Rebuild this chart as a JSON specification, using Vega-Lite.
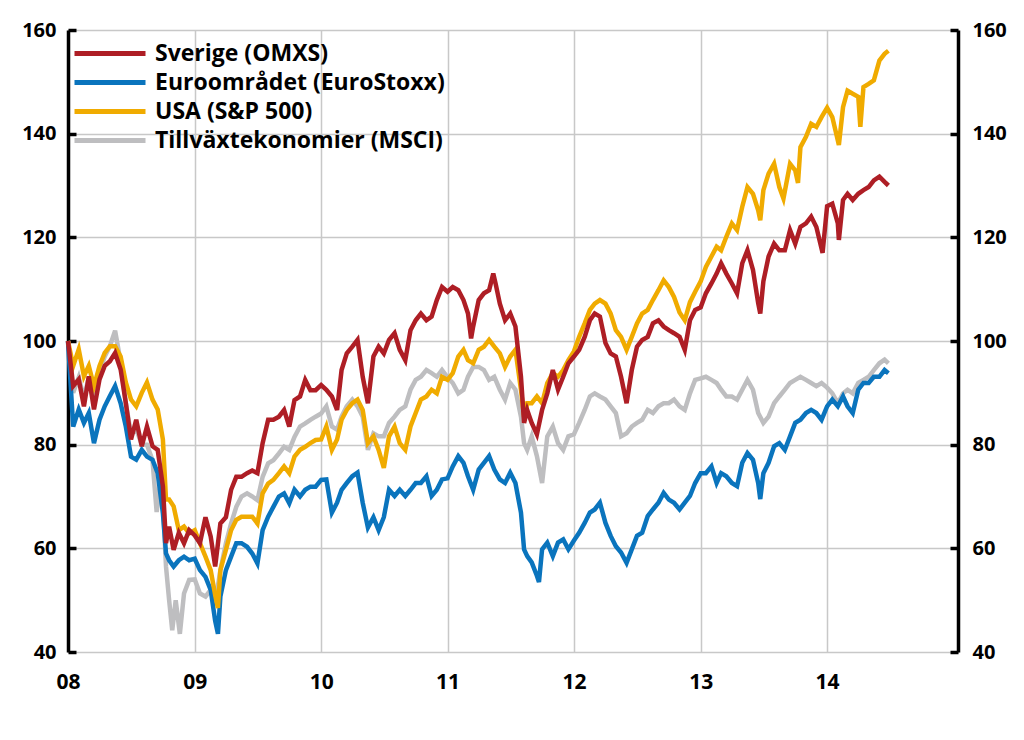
{
"$schema": "https://vega.github.io/schema/vega-lite/v6.json",
"width": 890, "height": 622,
"autosize": {"type": "none"},
"padding": {"left": 68, "top": 30, "right": 66, "bottom": 88},
"background": "white",
"config": {
  "view": {"stroke": null},
  "font": "Open Sans",
  "axis": {"labelFont": "Open Sans", "labelFontWeight": "bold", "labelColor": "#000", "gridColor": "#c8c8c8", "gridWidth": 1.5, "title": null},
  "legend": {"orient": "none", "legendX": 4, "legendY": 11, "symbolType": "M-1,0L6.1,0", "symbolSize": 400, "symbolStrokeWidth": 5, "labelFont": "Open Sans", "labelFontSize": 23, "labelFontWeight": "bold", "labelColor": "#000", "padding": 0, "rowPadding": 4, "labelOffset": 58, "labelLimit": 500, "title": null}
},
"data": {"format": {"parse": {"d": "utc:'%Y-%m-%d'"}}, "values": [
{"k":"EM","d":"2008-01-01","v":100},{"k":"EM","d":"2008-01-16","v":90},{"k":"EM","d":"2008-02-01","v":93},{"k":"EM","d":"2008-02-16","v":89},{"k":"EM","d":"2008-03-01","v":93},{"k":"EM","d":"2008-03-16","v":88},{"k":"EM","d":"2008-04-01","v":94},{"k":"EM","d":"2008-04-16","v":97},{"k":"EM","d":"2008-05-01","v":99},{"k":"EM","d":"2008-05-16","v":102},{"k":"EM","d":"2008-06-01","v":96},{"k":"EM","d":"2008-06-16","v":88},{"k":"EM","d":"2008-07-01","v":82},{"k":"EM","d":"2008-07-16","v":83},{"k":"EM","d":"2008-08-01","v":80},{"k":"EM","d":"2008-08-16","v":80},{"k":"EM","d":"2008-09-01","v":77},{"k":"EM","d":"2008-09-13","v":67},{"k":"EM","d":"2008-09-22","v":72},{"k":"EM","d":"2008-10-01","v":69},{"k":"EM","d":"2008-10-10","v":56.5},{"k":"EM","d":"2008-10-19","v":50},{"k":"EM","d":"2008-10-28","v":44.2},{"k":"EM","d":"2008-11-07","v":50},{"k":"EM","d":"2008-11-19","v":43.5},{"k":"EM","d":"2008-12-01","v":51.3},{"k":"EM","d":"2008-12-16","v":53.9},
{"k":"EM","d":"2009-01-01","v":54},{"k":"EM","d":"2009-01-16","v":51.3},{"k":"EM","d":"2009-02-01","v":50.7},{"k":"EM","d":"2009-02-16","v":52},{"k":"EM","d":"2009-03-01","v":49.4},{"k":"EM","d":"2009-03-16","v":55.8},{"k":"EM","d":"2009-04-01","v":61},{"k":"EM","d":"2009-04-16","v":64.8},{"k":"EM","d":"2009-05-01","v":68},{"k":"EM","d":"2009-05-16","v":70},{"k":"EM","d":"2009-06-01","v":70.6},{"k":"EM","d":"2009-06-16","v":70},{"k":"EM","d":"2009-07-01","v":69.3},{"k":"EM","d":"2009-07-16","v":73.8},{"k":"EM","d":"2009-08-01","v":76.4},{"k":"EM","d":"2009-08-16","v":77},{"k":"EM","d":"2009-09-01","v":78.3},{"k":"EM","d":"2009-09-16","v":79.6},{"k":"EM","d":"2009-10-01","v":79},{"k":"EM","d":"2009-10-16","v":81.5},{"k":"EM","d":"2009-11-01","v":83.5},{"k":"EM","d":"2009-11-16","v":84.1},{"k":"EM","d":"2009-12-01","v":84.8},{"k":"EM","d":"2009-12-16","v":85.4},
{"k":"EM","d":"2010-01-01","v":86},{"k":"EM","d":"2010-01-16","v":87.4},{"k":"EM","d":"2010-02-01","v":83.5},{"k":"EM","d":"2010-02-16","v":82.9},{"k":"EM","d":"2010-03-01","v":85.4},{"k":"EM","d":"2010-03-16","v":87.4},{"k":"EM","d":"2010-04-01","v":88.7},{"k":"EM","d":"2010-04-16","v":87.4},{"k":"EM","d":"2010-05-01","v":85.4},{"k":"EM","d":"2010-05-16","v":79},{"k":"EM","d":"2010-06-01","v":82.2},{"k":"EM","d":"2010-06-16","v":81.6},{"k":"EM","d":"2010-07-01","v":81.6},{"k":"EM","d":"2010-07-16","v":84.2},{"k":"EM","d":"2010-08-01","v":85.4},{"k":"EM","d":"2010-08-16","v":86.7},{"k":"EM","d":"2010-09-01","v":87.4},{"k":"EM","d":"2010-09-16","v":90.6},{"k":"EM","d":"2010-10-01","v":92.5},{"k":"EM","d":"2010-10-16","v":93.1},{"k":"EM","d":"2010-11-01","v":94.4},{"k":"EM","d":"2010-11-16","v":93.8},{"k":"EM","d":"2010-12-01","v":93.1},{"k":"EM","d":"2010-12-16","v":94.4},
{"k":"EM","d":"2011-01-01","v":93},{"k":"EM","d":"2011-01-16","v":91.9},{"k":"EM","d":"2011-02-01","v":89.9},{"k":"EM","d":"2011-02-16","v":90.6},{"k":"EM","d":"2011-03-01","v":93.1},{"k":"EM","d":"2011-03-16","v":95},{"k":"EM","d":"2011-04-01","v":95},{"k":"EM","d":"2011-04-16","v":94.4},{"k":"EM","d":"2011-05-01","v":92.5},{"k":"EM","d":"2011-05-16","v":93.1},{"k":"EM","d":"2011-06-01","v":90.6},{"k":"EM","d":"2011-06-16","v":88.7},{"k":"EM","d":"2011-07-01","v":91.9},{"k":"EM","d":"2011-07-16","v":90.6},{"k":"EM","d":"2011-08-01","v":85.4},{"k":"EM","d":"2011-08-10","v":80.3},{"k":"EM","d":"2011-08-19","v":79},{"k":"EM","d":"2011-09-01","v":81.6},{"k":"EM","d":"2011-09-16","v":77.8},{"k":"EM","d":"2011-10-01","v":72.6},{"k":"EM","d":"2011-10-16","v":81.6},{"k":"EM","d":"2011-11-01","v":83.5},{"k":"EM","d":"2011-11-16","v":80.3},{"k":"EM","d":"2011-12-01","v":79},{"k":"EM","d":"2011-12-16","v":81.6},
{"k":"EM","d":"2012-01-01","v":82},{"k":"EM","d":"2012-01-16","v":84.2},{"k":"EM","d":"2012-02-01","v":86.7},{"k":"EM","d":"2012-02-16","v":89.3},{"k":"EM","d":"2012-03-01","v":89.9},{"k":"EM","d":"2012-03-16","v":89.3},{"k":"EM","d":"2012-04-01","v":88.7},{"k":"EM","d":"2012-04-16","v":87.4},{"k":"EM","d":"2012-05-01","v":86.1},{"k":"EM","d":"2012-05-16","v":81.6},{"k":"EM","d":"2012-06-01","v":82.2},{"k":"EM","d":"2012-06-16","v":83.5},{"k":"EM","d":"2012-07-01","v":84.2},{"k":"EM","d":"2012-07-16","v":84.8},{"k":"EM","d":"2012-08-01","v":86.7},{"k":"EM","d":"2012-08-16","v":86.1},{"k":"EM","d":"2012-09-01","v":87.4},{"k":"EM","d":"2012-09-16","v":88},{"k":"EM","d":"2012-10-01","v":88},{"k":"EM","d":"2012-10-16","v":88.7},{"k":"EM","d":"2012-11-01","v":87.4},{"k":"EM","d":"2012-11-16","v":86.7},{"k":"EM","d":"2012-12-01","v":89.9},{"k":"EM","d":"2012-12-16","v":92.5},
{"k":"EM","d":"2013-01-01","v":92.8},{"k":"EM","d":"2013-01-16","v":93.1},{"k":"EM","d":"2013-02-01","v":92.5},{"k":"EM","d":"2013-02-16","v":91.9},{"k":"EM","d":"2013-03-01","v":90.6},{"k":"EM","d":"2013-03-16","v":89.3},{"k":"EM","d":"2013-04-01","v":89.3},{"k":"EM","d":"2013-04-16","v":88.7},{"k":"EM","d":"2013-05-01","v":90.6},{"k":"EM","d":"2013-05-16","v":92.5},{"k":"EM","d":"2013-06-01","v":90.6},{"k":"EM","d":"2013-06-16","v":86.1},{"k":"EM","d":"2013-07-01","v":84.2},{"k":"EM","d":"2013-07-16","v":85.4},{"k":"EM","d":"2013-08-01","v":88},{"k":"EM","d":"2013-08-16","v":89.3},{"k":"EM","d":"2013-09-01","v":90.6},{"k":"EM","d":"2013-09-16","v":91.9},{"k":"EM","d":"2013-10-01","v":92.5},{"k":"EM","d":"2013-10-16","v":93.1},{"k":"EM","d":"2013-11-01","v":92.5},{"k":"EM","d":"2013-11-16","v":91.9},{"k":"EM","d":"2013-12-01","v":91.3},{"k":"EM","d":"2013-12-16","v":91.9},
{"k":"EM","d":"2014-01-01","v":91},{"k":"EM","d":"2014-01-16","v":89.9},{"k":"EM","d":"2014-02-01","v":88},{"k":"EM","d":"2014-02-16","v":89.9},{"k":"EM","d":"2014-03-01","v":90.6},{"k":"EM","d":"2014-03-16","v":89.9},{"k":"EM","d":"2014-04-01","v":91.9},{"k":"EM","d":"2014-04-16","v":92.5},{"k":"EM","d":"2014-05-01","v":93.1},{"k":"EM","d":"2014-05-16","v":94.4},{"k":"EM","d":"2014-06-01","v":95.7},{"k":"EM","d":"2014-06-16","v":96.4},{"k":"EM","d":"2014-06-27","v":95.7},

{"k":"EU","d":"2008-01-01","v":100},{"k":"EU","d":"2008-01-16","v":83.5},{"k":"EU","d":"2008-02-01","v":86.8},{"k":"EU","d":"2008-02-16","v":84.2},{"k":"EU","d":"2008-03-01","v":86.1},{"k":"EU","d":"2008-03-16","v":80.3},{"k":"EU","d":"2008-04-01","v":84.8},{"k":"EU","d":"2008-04-16","v":87.4},{"k":"EU","d":"2008-05-01","v":89.4},{"k":"EU","d":"2008-05-16","v":91.3},{"k":"EU","d":"2008-06-01","v":88},{"k":"EU","d":"2008-06-16","v":83.5},{"k":"EU","d":"2008-07-01","v":77.7},{"k":"EU","d":"2008-07-16","v":77.1},{"k":"EU","d":"2008-08-01","v":79},{"k":"EU","d":"2008-08-16","v":77.7},{"k":"EU","d":"2008-09-01","v":77.1},{"k":"EU","d":"2008-09-16","v":74.5},{"k":"EU","d":"2008-10-01","v":66.8},{"k":"EU","d":"2008-10-10","v":59},{"k":"EU","d":"2008-10-19","v":57.7},{"k":"EU","d":"2008-11-01","v":56.5},{"k":"EU","d":"2008-11-16","v":57.7},{"k":"EU","d":"2008-12-01","v":58.4},{"k":"EU","d":"2008-12-16","v":57.7},
{"k":"EU","d":"2009-01-01","v":58},{"k":"EU","d":"2009-01-16","v":55.8},{"k":"EU","d":"2009-02-01","v":54.5},{"k":"EU","d":"2009-02-16","v":52},{"k":"EU","d":"2009-03-01","v":46},{"k":"EU","d":"2009-03-09","v":43.5},{"k":"EU","d":"2009-03-16","v":50.7},{"k":"EU","d":"2009-04-01","v":55.8},{"k":"EU","d":"2009-04-16","v":58.4},{"k":"EU","d":"2009-05-01","v":61},{"k":"EU","d":"2009-05-16","v":61},{"k":"EU","d":"2009-06-01","v":60.3},{"k":"EU","d":"2009-06-16","v":59},{"k":"EU","d":"2009-07-01","v":57.1},{"k":"EU","d":"2009-07-16","v":63.5},{"k":"EU","d":"2009-08-01","v":66.1},{"k":"EU","d":"2009-08-16","v":68},{"k":"EU","d":"2009-09-01","v":70},{"k":"EU","d":"2009-09-16","v":70.6},{"k":"EU","d":"2009-10-01","v":68.7},{"k":"EU","d":"2009-10-16","v":71.3},{"k":"EU","d":"2009-11-01","v":70},{"k":"EU","d":"2009-11-16","v":71.3},{"k":"EU","d":"2009-12-01","v":71.9},{"k":"EU","d":"2009-12-16","v":71.9},
{"k":"EU","d":"2010-01-01","v":73.2},{"k":"EU","d":"2010-01-16","v":73.3},{"k":"EU","d":"2010-02-01","v":66.9},{"k":"EU","d":"2010-02-16","v":68.8},{"k":"EU","d":"2010-03-01","v":71.3},{"k":"EU","d":"2010-03-16","v":72.6},{"k":"EU","d":"2010-04-01","v":73.9},{"k":"EU","d":"2010-04-16","v":74.6},{"k":"EU","d":"2010-05-01","v":68.8},{"k":"EU","d":"2010-05-16","v":64},{"k":"EU","d":"2010-06-01","v":66},{"k":"EU","d":"2010-06-16","v":63.5},{"k":"EU","d":"2010-07-01","v":66},{"k":"EU","d":"2010-07-16","v":71.3},{"k":"EU","d":"2010-08-01","v":70.1},{"k":"EU","d":"2010-08-16","v":71.3},{"k":"EU","d":"2010-09-01","v":70.1},{"k":"EU","d":"2010-09-16","v":71.3},{"k":"EU","d":"2010-10-01","v":72.6},{"k":"EU","d":"2010-10-16","v":72.6},{"k":"EU","d":"2010-11-01","v":73.9},{"k":"EU","d":"2010-11-16","v":70.1},{"k":"EU","d":"2010-12-01","v":71.3},{"k":"EU","d":"2010-12-16","v":73.3},
{"k":"EU","d":"2011-01-01","v":73.5},{"k":"EU","d":"2011-01-16","v":75.8},{"k":"EU","d":"2011-02-01","v":77.8},{"k":"EU","d":"2011-02-16","v":76.5},{"k":"EU","d":"2011-03-01","v":73.9},{"k":"EU","d":"2011-03-16","v":71.3},{"k":"EU","d":"2011-04-01","v":75.2},{"k":"EU","d":"2011-04-16","v":76.5},{"k":"EU","d":"2011-05-01","v":77.8},{"k":"EU","d":"2011-05-16","v":75.2},{"k":"EU","d":"2011-06-01","v":73.3},{"k":"EU","d":"2011-06-16","v":72.6},{"k":"EU","d":"2011-07-01","v":74.6},{"k":"EU","d":"2011-07-16","v":72.6},{"k":"EU","d":"2011-08-01","v":66.9},{"k":"EU","d":"2011-08-10","v":59.8},{"k":"EU","d":"2011-08-19","v":58.5},{"k":"EU","d":"2011-09-01","v":57.3},{"k":"EU","d":"2011-09-16","v":54.7},{"k":"EU","d":"2011-09-22","v":53.5},{"k":"EU","d":"2011-10-01","v":59.8},{"k":"EU","d":"2011-10-16","v":61.1},{"k":"EU","d":"2011-11-01","v":58.5},{"k":"EU","d":"2011-11-16","v":61.1},{"k":"EU","d":"2011-12-01","v":61.7},{"k":"EU","d":"2011-12-16","v":59.8},
{"k":"EU","d":"2012-01-01","v":61.5},{"k":"EU","d":"2012-01-16","v":63},{"k":"EU","d":"2012-02-01","v":64.9},{"k":"EU","d":"2012-02-16","v":66.9},{"k":"EU","d":"2012-03-01","v":67.5},{"k":"EU","d":"2012-03-16","v":68.8},{"k":"EU","d":"2012-04-01","v":64.9},{"k":"EU","d":"2012-04-16","v":62.4},{"k":"EU","d":"2012-05-01","v":60.4},{"k":"EU","d":"2012-05-16","v":59.2},{"k":"EU","d":"2012-06-01","v":57.2},{"k":"EU","d":"2012-06-16","v":59.8},{"k":"EU","d":"2012-07-01","v":62.4},{"k":"EU","d":"2012-07-16","v":63},{"k":"EU","d":"2012-08-01","v":66.2},{"k":"EU","d":"2012-08-16","v":67.5},{"k":"EU","d":"2012-09-01","v":68.8},{"k":"EU","d":"2012-09-16","v":70.7},{"k":"EU","d":"2012-10-01","v":69.4},{"k":"EU","d":"2012-10-16","v":68.8},{"k":"EU","d":"2012-11-01","v":67.5},{"k":"EU","d":"2012-11-16","v":68.8},{"k":"EU","d":"2012-12-01","v":70.1},{"k":"EU","d":"2012-12-16","v":72.6},
{"k":"EU","d":"2013-01-01","v":74.5},{"k":"EU","d":"2013-01-16","v":74.5},{"k":"EU","d":"2013-02-01","v":75.8},{"k":"EU","d":"2013-02-16","v":72.6},{"k":"EU","d":"2013-03-01","v":74.5},{"k":"EU","d":"2013-03-16","v":73.9},{"k":"EU","d":"2013-04-01","v":72.6},{"k":"EU","d":"2013-04-16","v":72},{"k":"EU","d":"2013-05-01","v":76.5},{"k":"EU","d":"2013-05-16","v":78.4},{"k":"EU","d":"2013-06-01","v":77.1},{"k":"EU","d":"2013-06-16","v":72.6},{"k":"EU","d":"2013-06-22","v":69.5},{"k":"EU","d":"2013-07-01","v":74.5},{"k":"EU","d":"2013-07-16","v":76.5},{"k":"EU","d":"2013-08-01","v":79.7},{"k":"EU","d":"2013-08-16","v":80.3},{"k":"EU","d":"2013-09-01","v":79},{"k":"EU","d":"2013-09-16","v":81.6},{"k":"EU","d":"2013-10-01","v":84.2},{"k":"EU","d":"2013-10-16","v":84.8},{"k":"EU","d":"2013-11-01","v":86.1},{"k":"EU","d":"2013-11-16","v":86.7},{"k":"EU","d":"2013-12-01","v":86.1},{"k":"EU","d":"2013-12-16","v":84.8},
{"k":"EU","d":"2014-01-01","v":87.4},{"k":"EU","d":"2014-01-16","v":88.7},{"k":"EU","d":"2014-02-01","v":87.4},{"k":"EU","d":"2014-02-16","v":89.3},{"k":"EU","d":"2014-03-01","v":87.4},{"k":"EU","d":"2014-03-16","v":86.1},{"k":"EU","d":"2014-04-01","v":90.6},{"k":"EU","d":"2014-04-16","v":91.9},{"k":"EU","d":"2014-05-01","v":91.9},{"k":"EU","d":"2014-05-16","v":93.1},{"k":"EU","d":"2014-06-01","v":93.1},{"k":"EU","d":"2014-06-16","v":94.4},{"k":"EU","d":"2014-06-27","v":93.8},

{"k":"US","d":"2008-01-01","v":100},{"k":"US","d":"2008-01-16","v":95.2},{"k":"US","d":"2008-02-01","v":98.4},{"k":"US","d":"2008-02-16","v":93.2},{"k":"US","d":"2008-03-01","v":95.2},{"k":"US","d":"2008-03-16","v":91.3},{"k":"US","d":"2008-04-01","v":95.2},{"k":"US","d":"2008-04-16","v":97.7},{"k":"US","d":"2008-05-01","v":99},{"k":"US","d":"2008-05-16","v":99},{"k":"US","d":"2008-06-01","v":97},{"k":"US","d":"2008-06-16","v":92},{"k":"US","d":"2008-07-01","v":88.7},{"k":"US","d":"2008-07-16","v":87.4},{"k":"US","d":"2008-08-01","v":90},{"k":"US","d":"2008-08-16","v":92},{"k":"US","d":"2008-09-01","v":88.7},{"k":"US","d":"2008-09-16","v":86.8},{"k":"US","d":"2008-10-01","v":81},{"k":"US","d":"2008-10-10","v":69.4},{"k":"US","d":"2008-10-19","v":69.4},{"k":"US","d":"2008-11-01","v":68.1},{"k":"US","d":"2008-11-16","v":63.5},{"k":"US","d":"2008-12-01","v":64.2},{"k":"US","d":"2008-12-16","v":62.9},
{"k":"US","d":"2009-01-01","v":63.5},{"k":"US","d":"2009-01-16","v":61},{"k":"US","d":"2009-02-01","v":58.4},{"k":"US","d":"2009-02-16","v":55.8},{"k":"US","d":"2009-03-01","v":51},{"k":"US","d":"2009-03-09","v":48.5},{"k":"US","d":"2009-03-16","v":55.8},{"k":"US","d":"2009-04-01","v":59.7},{"k":"US","d":"2009-04-16","v":63.5},{"k":"US","d":"2009-05-01","v":65.5},{"k":"US","d":"2009-05-16","v":66.1},{"k":"US","d":"2009-06-01","v":66.1},{"k":"US","d":"2009-06-16","v":66.1},{"k":"US","d":"2009-07-01","v":64.8},{"k":"US","d":"2009-07-16","v":70.6},{"k":"US","d":"2009-08-01","v":72.5},{"k":"US","d":"2009-08-16","v":73.2},{"k":"US","d":"2009-09-01","v":74.5},{"k":"US","d":"2009-09-16","v":75.8},{"k":"US","d":"2009-10-01","v":74.5},{"k":"US","d":"2009-10-16","v":77.7},{"k":"US","d":"2009-11-01","v":79},{"k":"US","d":"2009-11-16","v":79.6},{"k":"US","d":"2009-12-01","v":80.3},{"k":"US","d":"2009-12-16","v":80.9},
{"k":"US","d":"2010-01-01","v":81},{"k":"US","d":"2010-01-16","v":83.5},{"k":"US","d":"2010-02-01","v":79},{"k":"US","d":"2010-02-16","v":81},{"k":"US","d":"2010-03-01","v":84.8},{"k":"US","d":"2010-03-16","v":86.7},{"k":"US","d":"2010-04-01","v":88},{"k":"US","d":"2010-04-16","v":88.7},{"k":"US","d":"2010-05-01","v":86.7},{"k":"US","d":"2010-05-16","v":80.3},{"k":"US","d":"2010-06-01","v":81.6},{"k":"US","d":"2010-06-16","v":79},{"k":"US","d":"2010-07-01","v":75.5},{"k":"US","d":"2010-07-16","v":81.6},{"k":"US","d":"2010-08-01","v":83.5},{"k":"US","d":"2010-08-16","v":80.3},{"k":"US","d":"2010-09-01","v":79},{"k":"US","d":"2010-09-16","v":83.5},{"k":"US","d":"2010-10-01","v":86.1},{"k":"US","d":"2010-10-16","v":88.7},{"k":"US","d":"2010-11-01","v":89.3},{"k":"US","d":"2010-11-16","v":90.6},{"k":"US","d":"2010-12-01","v":89.9},{"k":"US","d":"2010-12-16","v":93.1},
{"k":"US","d":"2011-01-01","v":92.5},{"k":"US","d":"2011-01-16","v":93.8},{"k":"US","d":"2011-02-01","v":97},{"k":"US","d":"2011-02-16","v":98.3},{"k":"US","d":"2011-03-01","v":96.3},{"k":"US","d":"2011-03-16","v":95.7},{"k":"US","d":"2011-04-01","v":98.3},{"k":"US","d":"2011-04-16","v":98.9},{"k":"US","d":"2011-05-01","v":100.2},{"k":"US","d":"2011-05-16","v":98.9},{"k":"US","d":"2011-06-01","v":97.6},{"k":"US","d":"2011-06-16","v":95},{"k":"US","d":"2011-07-01","v":97},{"k":"US","d":"2011-07-16","v":98.3},{"k":"US","d":"2011-08-01","v":90.6},{"k":"US","d":"2011-08-10","v":85.4},{"k":"US","d":"2011-08-19","v":88},{"k":"US","d":"2011-09-01","v":88},{"k":"US","d":"2011-09-16","v":89.3},{"k":"US","d":"2011-10-01","v":88},{"k":"US","d":"2011-10-16","v":91.9},{"k":"US","d":"2011-11-01","v":93.8},{"k":"US","d":"2011-11-16","v":93.1},{"k":"US","d":"2011-12-01","v":94.4},{"k":"US","d":"2011-12-16","v":96.3},
{"k":"US","d":"2012-01-01","v":98},{"k":"US","d":"2012-01-16","v":100.8},{"k":"US","d":"2012-02-01","v":103.4},{"k":"US","d":"2012-02-16","v":106},{"k":"US","d":"2012-03-01","v":107.2},{"k":"US","d":"2012-03-16","v":107.9},{"k":"US","d":"2012-04-01","v":107.2},{"k":"US","d":"2012-04-16","v":105.3},{"k":"US","d":"2012-05-01","v":102.1},{"k":"US","d":"2012-05-16","v":100.8},{"k":"US","d":"2012-06-01","v":98.3},{"k":"US","d":"2012-06-16","v":100.8},{"k":"US","d":"2012-07-01","v":103.4},{"k":"US","d":"2012-07-16","v":105.3},{"k":"US","d":"2012-08-01","v":106},{"k":"US","d":"2012-08-16","v":107.9},{"k":"US","d":"2012-09-01","v":109.8},{"k":"US","d":"2012-09-16","v":111.7},{"k":"US","d":"2012-10-01","v":110.4},{"k":"US","d":"2012-10-16","v":108.5},{"k":"US","d":"2012-11-01","v":105.5},{"k":"US","d":"2012-11-16","v":104},{"k":"US","d":"2012-12-01","v":107.5},{"k":"US","d":"2012-12-16","v":109.5},
{"k":"US","d":"2013-01-01","v":111.5},{"k":"US","d":"2013-01-16","v":114.3},{"k":"US","d":"2013-02-01","v":116.3},{"k":"US","d":"2013-02-16","v":118.2},{"k":"US","d":"2013-03-01","v":117.5},{"k":"US","d":"2013-03-16","v":120.1},{"k":"US","d":"2013-04-01","v":122.7},{"k":"US","d":"2013-04-16","v":121.4},{"k":"US","d":"2013-05-01","v":125.9},{"k":"US","d":"2013-05-16","v":129.7},{"k":"US","d":"2013-06-01","v":128.4},{"k":"US","d":"2013-06-16","v":125.2},{"k":"US","d":"2013-06-22","v":123.3},{"k":"US","d":"2013-07-01","v":129.1},{"k":"US","d":"2013-07-16","v":132.3},{"k":"US","d":"2013-08-01","v":134.2},{"k":"US","d":"2013-08-16","v":129.7},{"k":"US","d":"2013-08-28","v":127.5},{"k":"US","d":"2013-09-16","v":134.2},{"k":"US","d":"2013-10-01","v":132.9},{"k":"US","d":"2013-10-09","v":130.5},{"k":"US","d":"2013-10-16","v":137.4},{"k":"US","d":"2013-11-01","v":139.4},{"k":"US","d":"2013-11-16","v":141.9},{"k":"US","d":"2013-12-01","v":141.3},{"k":"US","d":"2013-12-16","v":143.2},
{"k":"US","d":"2014-01-01","v":145},{"k":"US","d":"2014-01-16","v":143.2},{"k":"US","d":"2014-02-01","v":138.7},{"k":"US","d":"2014-02-04","v":137.8},{"k":"US","d":"2014-02-16","v":145.1},{"k":"US","d":"2014-03-01","v":148.3},{"k":"US","d":"2014-03-16","v":147.7},{"k":"US","d":"2014-04-01","v":147.1},{"k":"US","d":"2014-04-07","v":141.3},{"k":"US","d":"2014-04-16","v":149},{"k":"US","d":"2014-05-01","v":149.6},{"k":"US","d":"2014-05-16","v":150.3},{"k":"US","d":"2014-06-01","v":154.1},{"k":"US","d":"2014-06-16","v":155.4},{"k":"US","d":"2014-06-27","v":156},

{"k":"SE","d":"2008-01-01","v":100},{"k":"SE","d":"2008-01-16","v":91.3},{"k":"SE","d":"2008-02-01","v":92.6},{"k":"SE","d":"2008-02-16","v":87.4},{"k":"SE","d":"2008-03-01","v":93.2},{"k":"SE","d":"2008-03-16","v":86.8},{"k":"SE","d":"2008-04-01","v":92.6},{"k":"SE","d":"2008-04-16","v":95.2},{"k":"SE","d":"2008-05-01","v":96.1},{"k":"SE","d":"2008-05-16","v":97.7},{"k":"SE","d":"2008-06-01","v":94.5},{"k":"SE","d":"2008-06-16","v":88},{"k":"SE","d":"2008-07-01","v":81},{"k":"SE","d":"2008-07-16","v":84.8},{"k":"SE","d":"2008-08-01","v":79.7},{"k":"SE","d":"2008-08-16","v":83.5},{"k":"SE","d":"2008-09-01","v":79.7},{"k":"SE","d":"2008-09-16","v":79},{"k":"SE","d":"2008-10-01","v":72},{"k":"SE","d":"2008-10-10","v":61},{"k":"SE","d":"2008-10-19","v":64.2},{"k":"SE","d":"2008-11-01","v":59.7},{"k":"SE","d":"2008-11-16","v":63},{"k":"SE","d":"2008-12-01","v":61},{"k":"SE","d":"2008-12-16","v":63.5},
{"k":"SE","d":"2009-01-01","v":62.5},{"k":"SE","d":"2009-01-16","v":61},{"k":"SE","d":"2009-02-01","v":66},{"k":"SE","d":"2009-02-16","v":62.3},{"k":"SE","d":"2009-03-01","v":56.5},{"k":"SE","d":"2009-03-16","v":64.8},{"k":"SE","d":"2009-04-01","v":66},{"k":"SE","d":"2009-04-16","v":71.3},{"k":"SE","d":"2009-05-01","v":73.8},{"k":"SE","d":"2009-05-16","v":73.8},{"k":"SE","d":"2009-06-01","v":74.5},{"k":"SE","d":"2009-06-16","v":75},{"k":"SE","d":"2009-07-01","v":74.5},{"k":"SE","d":"2009-07-16","v":80.3},{"k":"SE","d":"2009-08-01","v":84.8},{"k":"SE","d":"2009-08-16","v":84.8},{"k":"SE","d":"2009-09-01","v":85.4},{"k":"SE","d":"2009-09-16","v":86.7},{"k":"SE","d":"2009-10-01","v":83.5},{"k":"SE","d":"2009-10-16","v":88.6},{"k":"SE","d":"2009-11-01","v":89.3},{"k":"SE","d":"2009-11-16","v":92.5},{"k":"SE","d":"2009-12-01","v":90.5},{"k":"SE","d":"2009-12-16","v":90.5},
{"k":"SE","d":"2010-01-01","v":91.5},{"k":"SE","d":"2010-01-16","v":90.6},{"k":"SE","d":"2010-02-01","v":89.3},{"k":"SE","d":"2010-02-16","v":86.7},{"k":"SE","d":"2010-03-01","v":94.4},{"k":"SE","d":"2010-03-16","v":97.6},{"k":"SE","d":"2010-04-01","v":98.9},{"k":"SE","d":"2010-04-16","v":100.2},{"k":"SE","d":"2010-05-01","v":93.1},{"k":"SE","d":"2010-05-16","v":88},{"k":"SE","d":"2010-06-01","v":97},{"k":"SE","d":"2010-06-16","v":98.9},{"k":"SE","d":"2010-07-01","v":97.6},{"k":"SE","d":"2010-07-16","v":100.2},{"k":"SE","d":"2010-08-01","v":101.5},{"k":"SE","d":"2010-08-16","v":98.3},{"k":"SE","d":"2010-09-01","v":96.3},{"k":"SE","d":"2010-09-16","v":102.1},{"k":"SE","d":"2010-10-01","v":104},{"k":"SE","d":"2010-10-16","v":105.3},{"k":"SE","d":"2010-11-01","v":104},{"k":"SE","d":"2010-11-16","v":104.7},{"k":"SE","d":"2010-12-01","v":107.9},{"k":"SE","d":"2010-12-16","v":110.4},
{"k":"SE","d":"2011-01-01","v":109.5},{"k":"SE","d":"2011-01-16","v":110.4},{"k":"SE","d":"2011-02-01","v":109.8},{"k":"SE","d":"2011-02-16","v":107.9},{"k":"SE","d":"2011-03-01","v":105.3},{"k":"SE","d":"2011-03-10","v":100.5},{"k":"SE","d":"2011-03-16","v":102.8},{"k":"SE","d":"2011-04-01","v":107.9},{"k":"SE","d":"2011-04-16","v":109.2},{"k":"SE","d":"2011-05-01","v":109.8},{"k":"SE","d":"2011-05-13","v":113},{"k":"SE","d":"2011-05-20","v":111},{"k":"SE","d":"2011-06-01","v":107.2},{"k":"SE","d":"2011-06-16","v":104},{"k":"SE","d":"2011-07-01","v":105.3},{"k":"SE","d":"2011-07-16","v":102.8},{"k":"SE","d":"2011-08-01","v":93.1},{"k":"SE","d":"2011-08-10","v":84.2},{"k":"SE","d":"2011-08-19","v":86.7},{"k":"SE","d":"2011-09-01","v":84.2},{"k":"SE","d":"2011-09-16","v":82},{"k":"SE","d":"2011-10-01","v":86.7},{"k":"SE","d":"2011-10-16","v":89.9},{"k":"SE","d":"2011-11-01","v":94.4},{"k":"SE","d":"2011-11-16","v":90.6},{"k":"SE","d":"2011-12-01","v":93.1},{"k":"SE","d":"2011-12-16","v":95.7},
{"k":"SE","d":"2012-01-01","v":97},{"k":"SE","d":"2012-01-16","v":98.3},{"k":"SE","d":"2012-02-01","v":100.8},{"k":"SE","d":"2012-02-16","v":104},{"k":"SE","d":"2012-03-01","v":105.3},{"k":"SE","d":"2012-03-16","v":104.7},{"k":"SE","d":"2012-04-01","v":99.6},{"k":"SE","d":"2012-04-16","v":97.6},{"k":"SE","d":"2012-05-01","v":97},{"k":"SE","d":"2012-05-16","v":93.1},{"k":"SE","d":"2012-06-01","v":88},{"k":"SE","d":"2012-06-16","v":94.4},{"k":"SE","d":"2012-07-01","v":98.9},{"k":"SE","d":"2012-07-16","v":100.2},{"k":"SE","d":"2012-08-01","v":100.8},{"k":"SE","d":"2012-08-16","v":103.4},{"k":"SE","d":"2012-09-01","v":104},{"k":"SE","d":"2012-09-16","v":102.8},{"k":"SE","d":"2012-10-01","v":102.1},{"k":"SE","d":"2012-10-16","v":101.5},{"k":"SE","d":"2012-11-01","v":100.8},{"k":"SE","d":"2012-11-16","v":98.3},{"k":"SE","d":"2012-12-01","v":104},{"k":"SE","d":"2012-12-16","v":106},
{"k":"SE","d":"2013-01-01","v":106.5},{"k":"SE","d":"2013-01-16","v":109.2},{"k":"SE","d":"2013-02-01","v":111.1},{"k":"SE","d":"2013-02-16","v":113},{"k":"SE","d":"2013-03-01","v":115},{"k":"SE","d":"2013-03-16","v":113},{"k":"SE","d":"2013-04-01","v":111.1},{"k":"SE","d":"2013-04-16","v":109.2},{"k":"SE","d":"2013-05-01","v":115},{"k":"SE","d":"2013-05-16","v":117.5},{"k":"SE","d":"2013-06-01","v":113.7},{"k":"SE","d":"2013-06-16","v":107.3},{"k":"SE","d":"2013-06-22","v":105.3},{"k":"SE","d":"2013-07-01","v":111.5},{"k":"SE","d":"2013-07-16","v":116.3},{"k":"SE","d":"2013-08-01","v":118.8},{"k":"SE","d":"2013-08-16","v":117.5},{"k":"SE","d":"2013-09-01","v":117.5},{"k":"SE","d":"2013-09-16","v":121.4},{"k":"SE","d":"2013-10-01","v":118.8},{"k":"SE","d":"2013-10-16","v":122},{"k":"SE","d":"2013-11-01","v":122.7},{"k":"SE","d":"2013-11-16","v":124},{"k":"SE","d":"2013-12-01","v":122},{"k":"SE","d":"2013-12-19","v":117},
{"k":"SE","d":"2014-01-01","v":126},{"k":"SE","d":"2014-01-16","v":126.5},{"k":"SE","d":"2014-02-01","v":122.7},{"k":"SE","d":"2014-02-04","v":119.5},{"k":"SE","d":"2014-02-16","v":127.2},{"k":"SE","d":"2014-03-01","v":128.4},{"k":"SE","d":"2014-03-16","v":127.2},{"k":"SE","d":"2014-04-01","v":128.4},{"k":"SE","d":"2014-04-16","v":129.1},{"k":"SE","d":"2014-05-01","v":129.7},{"k":"SE","d":"2014-05-16","v":131},{"k":"SE","d":"2014-06-01","v":131.7},{"k":"SE","d":"2014-06-16","v":130.7},{"k":"SE","d":"2014-06-27","v":130}
]},
"layer": [
  {
    "mark": {"type": "line", "strokeWidth": 4.5},
    "encoding": {
      "x": {"field": "d", "type": "temporal",
        "scale": {"type": "utc", "domain": [{"year": 2008, "month": 1, "date": 1, "utc": true}, {"year": 2015, "month": 1, "date": 14, "utc": true}]},
        "axis": {"values": [{"year": 2008, "month": 1, "date": 1, "utc": true}, {"year": 2009, "month": 1, "date": 1, "utc": true}, {"year": 2010, "month": 1, "date": 1, "utc": true}, {"year": 2011, "month": 1, "date": 1, "utc": true}, {"year": 2012, "month": 1, "date": 1, "utc": true}, {"year": 2013, "month": 1, "date": 1, "utc": true}, {"year": 2014, "month": 1, "date": 1, "utc": true}],
          "labelExpr": "utcFormat(datum.value, '%y')", "labelFlush": false, "labelOverlap": false, "domain": false, "ticks": false, "labelFontSize": 21, "labelPadding": 19, "grid": true, "title": null}},
      "y": {"field": "v", "type": "quantitative",
        "scale": {"domain": [40, 160], "nice": false, "zero": false},
        "axis": {"orient": "left", "values": [40, 60, 80, 100, 120, 140, 160], "domain": true, "domainColor": "#000", "domainWidth": 3.5, "ticks": true, "tickColor": "#000", "tickWidth": 3.5, "tickSize": -8, "labelPadding": 20, "labelFontSize": 20, "grid": true, "title": null}},
      "color": {"field": "k", "type": "nominal",
        "scale": {"domain": ["SE", "EU", "US", "EM"], "range": ["#AE1E25", "#0A74BD", "#F0AB00", "#BEBEC0"]},
        "legend": {"labelExpr": "{'SE':'Sverige (OMXS)','EU':'Euroområdet (EuroStoxx)','US':'USA (S&P 500)','EM':'Tillväxtekonomier (MSCI)'}[datum.value]"}}
    }
  },
  {
    "mark": {"type": "line", "opacity": 0},
    "encoding": {
      "x": {"field": "d", "type": "temporal"},
      "y": {"field": "v", "type": "quantitative",
        "axis": {"orient": "right", "values": [40, 60, 80, 100, 120, 140, 160], "domain": true, "domainColor": "#000", "domainWidth": 3.5, "ticks": true, "tickColor": "#000", "tickWidth": 3.5, "tickSize": -8, "labelPadding": 22, "labelFontSize": 20, "grid": false, "title": null}},
      "detail": {"field": "k"}
    }
  }
],
"resolve": {"scale": {"y": "shared"}, "axis": {"y": "independent"}}
}
